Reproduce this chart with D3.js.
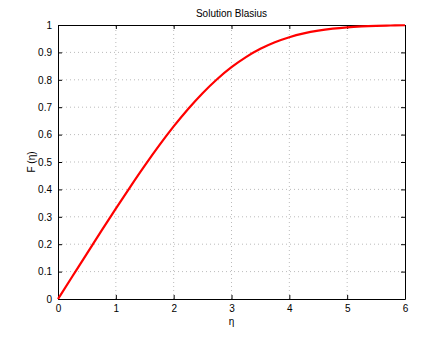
<!DOCTYPE html>
<html><head><meta charset="utf-8">
<script src="https://cdn.jsdelivr.net/npm/d3@7"></script>
<style>body{margin:0;background:#fff}svg{display:block}</style>
</head><body>
<script>
const eta = [0,0.25,0.5,0.75,1,1.25,1.5,1.75,2,2.25,2.5,2.75,3,3.25,3.5,3.75,4,4.25,4.5,4.75,5,5.25,5.5,5.75,6];
const fprime = [0,0.0830,0.1659,0.2483,0.3298,0.4096,0.4868,0.5605,0.6298,0.6936,0.7513,0.8022,0.8461,0.8829,0.9131,0.9370,0.9555,0.9694,0.9795,0.9867,0.9916,0.9948,0.9969,0.9982,0.9990];
const xTicks = [0,1,2,3,4,5,6];
const yTicks = [0,0.1,0.2,0.3,0.4,0.5,0.6,0.7,0.8,0.9,1];
const W=448,H=337;
const m={l:58,r:43,t:25,b:38};
const svg=d3.select("body").append("svg").attr("width",W).attr("height",H)
  .style("font-family","'Liberation Sans',Arial,sans-serif").style("font-size","10px");
const x=d3.scaleLinear().domain([0,6]).range([m.l,W-m.r]);
const y=d3.scaleLinear().domain([0,1]).range([H-m.b,m.t]);
const g=svg.append("g");
// grid
g.selectAll(".gx").data(xTicks.slice(1,-1)).join("line").attr("x1",d=>x(d)).attr("x2",d=>x(d))
 .attr("y1",y(0)).attr("y2",y(1)).attr("stroke","#aaa").attr("stroke-width",0.8).attr("stroke-dasharray","1,3");
g.selectAll(".gy").data(yTicks.slice(1,-1)).join("line").attr("y1",d=>y(d)).attr("y2",d=>y(d))
 .attr("x1",x(0)).attr("x2",x(6)).attr("stroke","#aaa").attr("stroke-width",0.8).attr("stroke-dasharray","1,3");
// axes
const xa=d3.axisBottom(x).tickValues(xTicks).tickSizeInner(-4).tickSizeOuter(0).tickPadding(6).tickFormat(d3.format("d"));
const ya=d3.axisLeft(y).tickValues(yTicks).tickSizeInner(-4).tickSizeOuter(0).tickPadding(6).tickFormat(d=>d===0||d===1?d:d3.format(".1f")(d));
const xt=d3.axisTop(x).tickValues(xTicks).tickSizeInner(-4).tickSizeOuter(0).tickFormat("");
const yr=d3.axisRight(y).tickValues(yTicks).tickSizeInner(-4).tickSizeOuter(0).tickFormat("");
svg.append("g").attr("transform",`translate(0,${y(0)})`).call(xa);
svg.append("g").attr("transform",`translate(${x(0)},0)`).call(ya);
svg.append("g").attr("transform",`translate(0,${y(1)})`).call(xt);
svg.append("g").attr("transform",`translate(${x(6)},0)`).call(yr);
svg.selectAll(".domain").attr("stroke","#000");
svg.selectAll(".tick text").attr("fill","#000").style("font-size","10px");
// line
const line=d3.line().x((d,i)=>x(eta[i])).y(d=>y(d)).curve(d3.curveMonotoneX);
svg.append("path").datum(fprime).attr("d",line).attr("fill","none").attr("stroke","#ff0000").attr("stroke-width",2.2);
// labels
svg.append("text").attr("x",(x(0)+x(6))/2).attr("y",17).attr("text-anchor","middle").text("Solution Blasius");
svg.append("text").attr("x",(x(0)+x(6))/2).attr("y",325).attr("text-anchor","middle").text("η");
svg.append("text").attr("transform",`translate(35,${(y(0)+y(1))/2}) rotate(-90)`).attr("text-anchor","middle").text("F (η)");
</script>
</body></html>
